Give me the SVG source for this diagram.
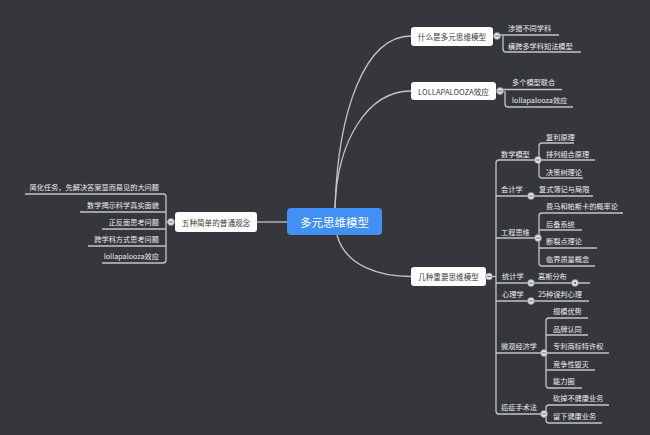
<svg xmlns="http://www.w3.org/2000/svg" width="650" height="435" viewBox="0 0 650 435">
<style>
.bg{fill:#36373c}
.ln{fill:none;stroke:#c4c4c4;stroke-width:1.3}
.box{fill:#ffffff;rx:3px}
.bt{font-family:"Noto Sans CJK SC","Liberation Sans",sans-serif;font-size:7.6px;fill:#3a3a3a;text-anchor:middle;dominant-baseline:central}
.lt{font-family:"Noto Sans CJK SC","Liberation Sans",sans-serif;font-size:7.2px;fill:#ececec;dominant-baseline:central}
.le{text-anchor:end}
.ct{font-family:"Noto Sans CJK SC","Liberation Sans",sans-serif;font-size:11.5px;fill:#ffffff;text-anchor:middle;dominant-baseline:central}
.cc{fill:#e8e8e8;stroke:#8a8a8a;stroke-width:0.8}
.cm{stroke:#555;stroke-width:0.9}
</style>
<defs>
<g id="col"><circle class="cc" r="3.4"/><line class="cm" x1="-1.8" y1="0" x2="1.8" y2="0"/></g>
<g id="exp"><circle class="cc" r="3.4"/><circle r="1.2" fill="#777"/></g>
</defs>
<rect class="bg" width="650" height="435"/>
<g id="connectors">
<!-- central to level 1 -->
<path class="ln" d="M335,208 C338,110 365,36 411,36"/>
<path class="ln" d="M335,208 C337,140 368,91 411,91"/>
<path class="ln" d="M337,235 C345,266 380,276.5 411,276.5"/>
<path class="ln" d="M287,222 L257,222"/>
<!-- left children -->
<path class="ln" d="M168,222 L166,222"/>
<path class="ln" d="M25,194 L163,194 Q166,194 166,197 L166,260 Q166,263 163,263 L102,263"/>
<path class="ln" d="M80,212 L166,212"/>
<path class="ln" d="M102,229 L166,229"/>
<path class="ln" d="M88,246 L166,246"/>
<!-- node A children -->
<path class="ln" d="M497,35 L559,35"/>
<path class="ln" d="M503,36 L503,49 Q503,52 506,52 L581,52"/>
<!-- node B children -->
<path class="ln" d="M500,89.5 L562,89.5"/>
<path class="ln" d="M505,91 L505,104 Q505,107 508,107 L573,107"/>
<!-- node C trunk -->
<path class="ln" d="M489,276.5 L496,276.5"/>
<path class="ln" d="M538,160 L499,160 Q496,160 496,163 L496,411 Q496,414 499,414 L544,414"/>
<path class="ln" d="M496,196 L593,196"/>
<path class="ln" d="M496,238 L538,238"/>
<path class="ln" d="M496,283 L590,283"/>
<path class="ln" d="M496,301 L589,301"/>
<path class="ln" d="M496,353 L544,353"/>
<!-- 数学模型 children -->
<path class="ln" d="M574,143 L542,143 Q539,143 539,146 L539,175 Q539,178 542,178 L583,178"/>
<path class="ln" d="M538,160 L595,160"/>
<!-- 工程思维 children -->
<path class="ln" d="M623,213 L542,213 Q539,213 539,216 L539,263 Q539,266 542,266 L595,266"/>
<path class="ln" d="M539,230 L582,230"/>
<path class="ln" d="M539,248 L597,248"/>
<!-- 微观经济学 children -->
<path class="ln" d="M588,318 L549,318 Q546,318 546,321 L546,385 Q546,388 549,388 L582,388"/>
<path class="ln" d="M546,335 L588,335"/>
<path class="ln" d="M544,353 L609,353"/>
<path class="ln" d="M546,370 L595,370"/>
<!-- 癌症手术法 children -->
<path class="ln" d="M609,405 L549,405 Q546,405 546,408 L546,420 Q546,423 549,423 L602,423"/>
</g>
<g id="center">
<rect x="287" y="208" width="95" height="27" rx="4" fill="#4190f5"/>
<text class="ct" x="334.5" y="221.5">多元思维模型</text>
</g>
<g id="n-five">
<rect class="box" x="175" y="212" width="82" height="20" rx="3"/>
<text class="bt" x="216" y="222">五种简单的普通观念</text>
<use href="#col" x="171" y="222"/>
</g>
<g id="n-five-1"><text class="lt le" x="159" y="187">简化任务，先解决答案显而易见的大问题</text></g>
<g id="n-five-2"><text class="lt le" x="159" y="204.5">数学揭示科学真实面貌</text></g>
<g id="n-five-3"><text class="lt le" x="159" y="222">正反面思考问题</text></g>
<g id="n-five-4"><text class="lt le" x="159" y="238.5">跨学科方式思考问题</text></g>
<g id="n-five-5"><text class="lt le" x="159" y="256">lollapalooza效应</text></g>
<g id="n-what">
<rect class="box" x="411" y="27" width="82" height="19" rx="3"/>
<text class="bt" x="452" y="36.5">什么是多元思维模型</text>
<use href="#col" x="497" y="36"/>
</g>
<g id="n-what-1"><text class="lt" x="508" y="28">涉猎不同学科</text></g>
<g id="n-what-2"><text class="lt" x="508" y="45.5">横跨多学科知法模型</text></g>
<g id="n-lolla">
<rect class="box" x="411" y="82" width="85" height="18" rx="3"/>
<text class="bt" x="453.5" y="91">LOLLAPALOOZA效应</text>
<use href="#col" x="500" y="91"/>
</g>
<g id="n-lolla-1"><text class="lt" x="512" y="82">多个模型联合</text></g>
<g id="n-lolla-2"><text class="lt" x="512" y="100">lollapalooza效应</text></g>
<g id="n-models">
<rect class="box" x="411" y="267" width="75" height="19" rx="3"/>
<text class="bt" x="448.5" y="276.5">几种重要思维模型</text>
<use href="#col" x="489" y="276.5"/>
</g>
<g id="n-math">
<text class="lt" x="501" y="154">数学模型</text>
<use href="#col" x="538" y="160"/>
</g>
<g id="n-math-1"><text class="lt" x="546" y="136.5">复利原理</text></g>
<g id="n-math-2"><text class="lt" x="546" y="153.5">排列组合原理</text></g>
<g id="n-math-3"><text class="lt" x="546" y="171.5">决策树理论</text></g>
<g id="n-acc">
<text class="lt" x="501" y="189">会计学</text>
<use href="#col" x="531" y="196"/>
</g>
<g id="n-acc-1"><text class="lt" x="539" y="189">复式簿记与局限</text></g>
<g id="n-eng">
<text class="lt" x="501" y="231.5">工程思维</text>
<use href="#col" x="538" y="238"/>
</g>
<g id="n-eng-1"><text class="lt" x="546" y="206">费马和帕斯卡的概率论</text></g>
<g id="n-eng-2"><text class="lt" x="546" y="223.5">后备系统</text></g>
<g id="n-eng-3"><text class="lt" x="546" y="241">断裂点理论</text></g>
<g id="n-eng-4"><text class="lt" x="546" y="258.5">临界质量概念</text></g>
<g id="n-stat">
<text class="lt" x="502" y="276">统计学</text>
<use href="#col" x="531" y="283"/>
</g>
<g id="n-stat-1">
<text class="lt" x="538" y="276">高斯分布</text>
<use href="#exp" x="575" y="283"/>
</g>
<g id="n-psy">
<text class="lt" x="502" y="293.5">心理学</text>
<use href="#col" x="531" y="301"/>
</g>
<g id="n-psy-1"><text class="lt" x="538" y="293.5">25种误判心理</text></g>
<g id="n-micro">
<text class="lt" x="501" y="346">微观经济学</text>
<use href="#col" x="544" y="353"/>
</g>
<g id="n-micro-1"><text class="lt" x="553" y="311">规模优势</text></g>
<g id="n-micro-2"><text class="lt" x="553" y="328.5">品牌认同</text></g>
<g id="n-micro-3"><text class="lt" x="553" y="346">专利商标特许权</text></g>
<g id="n-micro-4"><text class="lt" x="553" y="363.5">竞争性毁灭</text></g>
<g id="n-micro-5"><text class="lt" x="553" y="381">能力圈</text></g>
<g id="n-cancer">
<text class="lt" x="501" y="407">癌症手术法</text>
<use href="#col" x="544" y="414"/>
</g>
<g id="n-cancer-1"><text class="lt" x="553" y="398">砍掉不健康业务</text></g>
<g id="n-cancer-2"><text class="lt" x="553" y="416">留下健康业务</text></g>
</svg>
